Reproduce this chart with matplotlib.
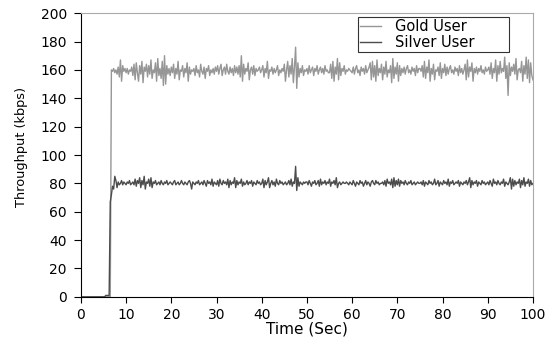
import numpy as np
import matplotlib
matplotlib.use('Agg')
import matplotlib.pyplot as plt

plt.rcParams['font.family'] = ['DejaVu Sans']

# === Throughput samples, one every 0.25 s from 0 to 100 s ===
time_step = 0.25

gold_kbps = [
    0, 0, 0, 0, 0, 0, 0, 0, 0, 0, 0, 0, 0, 0, 0, 0, 0, 0, 0, 0,
    0, 0, 0, 0, 0, 0, 0, 160, 159, 161, 158, 160, 157, 162, 155, 167, 152, 163, 159, 161,
    158, 161, 157, 160, 159, 162, 156, 164, 153, 165, 158, 152, 163, 157, 166, 151, 162, 159, 164, 155,
    163, 157, 167, 154, 160, 158, 165, 152, 168, 156, 161, 154, 166, 149, 170, 150, 163, 157, 161, 156,
    162, 158, 164, 154, 161, 157, 166, 153, 160, 159, 163, 155, 161, 158, 165, 152, 162, 157, 160, 159,
    161, 156, 163, 158, 160, 155, 164, 159, 157, 162, 154, 161, 159, 163, 156, 160, 158, 161, 157, 162,
    159, 163, 157, 161, 164, 156, 160, 162, 157, 164, 159, 157, 162, 158, 161, 156, 163, 158, 162, 157,
    163, 155, 170, 152, 164, 157, 161, 159, 165, 153, 160, 162, 157, 163, 156, 161, 159, 160, 162, 158,
    160, 163, 155, 161, 158, 166, 154, 160, 159, 162, 157, 161, 158, 160, 163, 156, 160, 158, 161, 159,
    164, 152, 160, 166, 155, 163, 157, 168, 151, 162, 176, 147, 165, 155, 161, 158, 163, 156, 160, 159,
    161, 157, 163, 158, 160, 162, 156, 161, 159, 163, 157, 160, 162, 158, 161, 157, 163, 159, 160, 158,
    158, 164, 154, 166, 152, 162, 157, 168, 153, 165, 156, 161, 159, 163, 157, 160, 159, 161, 160, 159,
    158, 162, 157, 161, 163, 158, 160, 156, 162, 159, 161, 157, 163, 158, 160, 162, 165, 153, 166, 155,
    163, 152, 167, 156, 161, 158, 164, 153, 162, 157, 166, 155, 160, 158, 163, 151, 168, 154, 162, 157,
    165, 152, 163, 156, 161, 158, 162, 157, 161, 163, 158, 160, 157, 162, 159, 161, 156, 163, 158, 161,
    161, 159, 163, 155, 166, 154, 162, 158, 167, 152, 161, 157, 164, 153, 160, 159, 162, 156, 165, 154,
    161, 158, 164, 156, 162, 157, 161, 163, 158, 160, 157, 162, 159, 161, 156, 163, 158, 161, 157, 160,
    164, 153, 167, 155, 162, 159, 165, 152, 161, 158, 162, 157, 161, 159, 163, 158, 160, 157, 162, 159,
    160, 162, 157, 165, 154, 161, 158, 167, 152, 163, 157, 166, 158, 161, 159, 169, 154, 163, 142, 165,
    156, 162, 159, 164, 157, 168, 153, 160, 161, 158, 166, 152, 163, 157, 169, 154, 167, 151, 165, 156,
    153,
]

silver_kbps = [
    0, 0, 0, 0, 0, 0, 0, 0, 0, 0, 0, 0, 0, 0, 0, 0, 0, 0, 0, 0,
    0, 0, 1, 1, 1, 1, 67, 72, 78, 76, 85, 82, 77, 81, 79, 80, 82, 79, 81, 80,
    79, 81, 80, 82, 79, 80, 81, 79, 83, 78, 82, 80, 84, 77, 82, 79, 85, 76, 81, 80,
    83, 78, 84, 77, 81, 80, 82, 79, 80, 81, 79, 82, 80, 79, 81, 80, 82, 79, 80, 81,
    80, 79, 81, 82, 79, 80, 81, 79, 80, 82, 80, 79, 81, 80, 79, 81, 82, 80, 76, 81,
    80, 79, 81, 80, 82, 79, 80, 81, 79, 82, 80, 78, 82, 80, 81, 79, 83, 78, 81, 80,
    79, 82, 78, 83, 80, 79, 82, 80, 81, 79, 83, 77, 82, 79, 81, 80, 84, 77, 82, 79,
    81, 80, 83, 78, 81, 79, 80, 82, 79, 81, 80, 82, 78, 81, 80, 79, 82, 80, 81, 79,
    80, 83, 77, 82, 79, 81, 84, 77, 80, 82, 79, 81, 78, 83, 80, 79, 82, 80, 81, 79,
    80, 81, 79, 80, 82, 79, 83, 78, 81, 80, 92, 75, 84, 78, 81, 80, 79, 81, 80, 81,
    81, 79, 82, 80, 78, 81, 80, 82, 79, 80, 82, 78, 83, 79, 81, 80, 82, 79, 81, 80,
    83, 78, 81, 80, 82, 79, 84, 77, 80, 81, 79, 80, 81, 80, 80, 81, 80, 79, 81, 80,
    79, 82, 80, 78, 81, 80, 79, 82, 80, 81, 78, 80, 82, 79, 81, 80, 78, 81, 82, 80,
    79, 82, 80, 81, 79, 80, 80, 81, 79, 82, 78, 83, 80, 81, 79, 83, 77, 84, 78, 82,
    79, 83, 78, 82, 80, 81, 79, 82, 80, 79, 81, 80, 82, 79, 80, 81, 79, 80, 81, 80,
    80, 81, 79, 82, 78, 81, 80, 79, 82, 80, 81, 79, 80, 83, 79, 80, 82, 78, 81, 80,
    79, 82, 80, 81, 79, 83, 78, 81, 80, 82, 79, 80, 81, 80, 82, 78, 81, 80, 79, 81,
    80, 82, 79, 81, 84, 77, 82, 79, 81, 80, 82, 78, 81, 80, 79, 82, 80, 81, 79, 80,
    81, 79, 82, 80, 78, 83, 80, 81, 79, 82, 80, 79, 81, 80, 83, 78, 81, 80, 79, 81,
    84, 76, 83, 78, 82, 79, 81, 80, 83, 77, 82, 79, 84, 78, 81, 80, 83, 78, 82, 79,
    80,
]

x_ticks = [0, 10, 20, 30, 40, 50, 60, 70, 80, 90, 100]
y_ticks = [0, 20, 40, 60, 80, 100, 120, 140, 160, 180, 200]

time_sec = np.arange(len(gold_kbps)) * time_step

fig = plt.figure(figsize=(5.54, 3.46), dpi=100)
ax = fig.add_axes([0.146, 0.142, 0.816, 0.820])

ax.plot(time_sec, gold_kbps, color='#969696', lw=1.0, label='Gold User')
ax.plot(time_sec, silver_kbps, color='#4c4c4c', lw=1.0, label='Silver User')

ax.set_xlim(0, 100)
ax.set_ylim(0, 200)
ax.set_xticks(x_ticks)
ax.set_yticks(y_ticks)
ax.tick_params(axis='both', direction='out', width=0.8, labelsize=10)
ax.tick_params(axis='y', length=5, pad=5)
ax.tick_params(axis='x', length=4, pad=4)

for side in ('top', 'right'):
    ax.spines[side].set_color('#aaaaaa')
for side in ('left', 'bottom'):
    ax.spines[side].set_color('black')

ax.set_xlabel('Time (Sec)', fontsize=11)
ax.xaxis.set_label_coords(0.5, -0.088)
ax.set_ylabel('Throughput (kbps)', fontsize=9.3)
ax.yaxis.set_label_coords(-0.117, 0.53)

# Legend box stretched over a fixed span in the upper right
leg = ax.legend(loc='upper left', bbox_to_anchor=(0.613, 0.986, 0.334, 0.0), mode='expand',
                fontsize=10.5, frameon=True, fancybox=False, handlelength=1.4,
                handletextpad=1.0, borderpad=0.15, labelspacing=0.05, borderaxespad=0)
leg.get_frame().set_edgecolor('black')
leg.get_frame().set_linewidth(0.8)

fig.savefig('out.png', dpi=100)
